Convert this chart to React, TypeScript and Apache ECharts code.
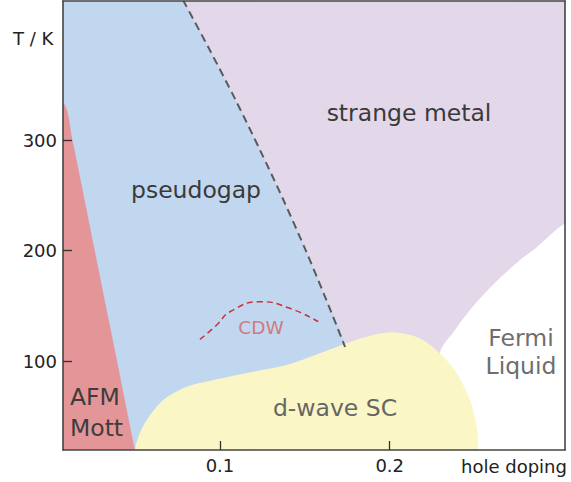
import React, { useEffect, useRef } from "react";
import * as echarts from "echarts";

// axis extents (hole doping, temperature in K)
const X_MIN = 0.0075;
const X_MAX = 0.3033;
const Y_MIN = 19.5;
const Y_MAX = 425.8;

const xTicks = [0.1, 0.2];
const yTicks = [100, 200, 300];

// phase boundaries: [doping, T]
const afmBoundary: number[][] = [
  [0.0081, 333], [0.0128, 302], [0.0266, 197], [0.0391, 102], [0.0499, 19.5],
];
const pseudogapLine: number[][] = [
  [0.0782, 426.7], [0.094, 381.4], [0.1092, 336.2], [0.1236, 290.9], [0.1374, 245.7],
  [0.1504, 200.5], [0.1627, 155.2], [0.1737, 112.7],
];
const scDome: number[][] = [
  [0.0499, 19.5], [0.0523, 33], [0.0568, 46.6], [0.0666, 64.7], [0.0804, 76.7], [0.0961, 82.8],
  [0.1196, 90.3], [0.1393, 96.4], [0.1589, 107], [0.1747, 116], [0.1903, 123.5], [0.2021, 126],
  [0.2179, 120.5], [0.2296, 107], [0.2395, 88.9], [0.2473, 64.7], [0.2513, 40.5], [0.2522, 19.5],
];
const fermiBoundary: number[][] = [
  [0.2296, 107], [0.2385, 128.1], [0.2473, 146.2], [0.2562, 161.5], [0.265, 175.1],
  [0.2768, 191.4], [0.2868, 203.2], [0.3027, 224],
];
const cdwLine: number[][] = [
  [0.0882, 119.6], [0.0981, 132.6], [0.1059, 144.6], [0.1236, 153.7], [0.1412, 147.7], [0.1579, 135.6],
];

const FONT = "DejaVu Sans";
const SMOOTH = 0.3;

function polygonSeries(points: number[][], color: string) {
  return {
    type: "custom",
    clip: true,
    silent: true,
    data: points,
    encode: { x: 0, y: 1 },
    renderItem: (params: any, api: any) => {
      if (params.dataIndex !== 0) return null;
      const pts = points.map((p) => api.coord(p));
      return {
        type: "polygon",
        shape: { points: pts, smooth: SMOOTH },
        style: { fill: color, stroke: null },
      };
    },
  };
}

export default function App() {
  const ref = useRef<HTMLDivElement>(null);
  useEffect(() => {
    if (!ref.current) return;
    const chart = echarts.init(ref.current, undefined, { renderer: "svg" });
    const xl = X_MIN - 0.01;
    const xr = X_MAX + 0.01;
    const yb = Y_MIN - 10;
    const yt = Y_MAX + 10;

    const white = [...fermiBoundary, [xr, fermiBoundary[fermiBoundary.length - 1][1] + 5], [xr, yb], [fermiBoundary[0][0], yb]];
    const blue = [[xl, yt], [pseudogapLine[0][0] - 0.003, yt], ...pseudogapLine, [pseudogapLine[pseudogapLine.length - 1][0] + 0.003, yb], [xl, yb]];
    const afm = [[xl, afmBoundary[0][1] + 3], ...afmBoundary, [afmBoundary[afmBoundary.length - 1][0] + 0.002, yb], [xl, yb]];
    const dome = [...scDome, [scDome[scDome.length - 1][0], yb], [scDome[0][0], yb]];

    const axisLine = { show: true, lineStyle: { color: "#444", width: 1.6 } };
    const textStyle = (color: string, size: number) => ({ fill: color, fontSize: size, fontFamily: FONT });

    chart.setOption({
      animation: false,
      grid: {
        left: 63, right: 6, top: 1, bottom: 32,
        show: true, backgroundColor: "#e3d7ea", borderWidth: 0,
      },
      xAxis: [
        {
          type: "value", min: X_MIN, max: X_MAX, z: 10,
          axisLine,
          splitLine: { show: false },
          axisTick: { show: true, inside: true, length: 9, customValues: xTicks, lineStyle: { color: "#333", width: 1.3 } },
          axisLabel: { show: true, customValues: xTicks, margin: 6, color: "#222", fontSize: 18, fontFamily: FONT },
        },
        {
          type: "value", min: X_MIN, max: X_MAX, position: "top", z: 10,
          axisLine, splitLine: { show: false }, axisTick: { show: false }, axisLabel: { show: false },
        },
      ],
      yAxis: [
        {
          type: "value", min: Y_MIN, max: Y_MAX, z: 10,
          axisLine,
          splitLine: { show: false },
          axisTick: { show: true, inside: true, length: 9, customValues: yTicks, lineStyle: { color: "#333", width: 1.3 } },
          axisLabel: { show: true, customValues: yTicks, margin: 6, color: "#222", fontSize: 18, fontFamily: FONT },
        },
        {
          type: "value", min: Y_MIN, max: Y_MAX, position: "right", z: 10,
          axisLine, splitLine: { show: false }, axisTick: { show: false }, axisLabel: { show: false },
        },
      ],
      series: [
        polygonSeries(white, "#ffffff"),
        polygonSeries(blue, "#c1d7ef"),
        polygonSeries(afm, "#e39598"),
        polygonSeries(dome, "#faf6c5"),
        {
          type: "custom",
          clip: true,
          silent: true,
          data: pseudogapLine,
          encode: { x: 0, y: 1 },
          renderItem: (params: any, api: any) => {
            if (params.dataIndex !== 0) return null;
            return {
              type: "polyline",
              shape: { points: pseudogapLine.map((p) => api.coord(p)), smooth: SMOOTH },
              style: { fill: null, stroke: "#5a5a5a", lineWidth: 2, lineDash: [8, 5] },
            };
          },
        },
        {
          type: "line", data: cdwLine, showSymbol: false, silent: true, smooth: true,
          lineStyle: { color: "#c9323a", width: 1.5, type: [6, 4] },
        },
      ],
      graphic: [
        { type: "text", left: 13, top: 29, style: { text: "T / K", ...textStyle("#222", 18) }, z: 20 },
        { type: "text", left: 461, top: 457, style: { text: "hole doping", ...textStyle("#222", 18) }, z: 20 },
        { type: "text", x: 409, y: 113, style: { text: "strange metal", align: "center", verticalAlign: "middle", ...textStyle("#3a3a3a", 23.5) }, z: 20 },
        { type: "text", x: 196, y: 190, style: { text: "pseudogap", align: "center", verticalAlign: "middle", ...textStyle("#3a3a3a", 23.5) }, z: 20 },
        { type: "text", x: 261, y: 327, style: { text: "CDW", align: "center", verticalAlign: "middle", ...textStyle("#d07a7e", 18.5) }, z: 20 },
        { type: "text", x: 335, y: 408, style: { text: "d-wave SC", align: "center", verticalAlign: "middle", ...textStyle("#666666", 23.5) }, z: 20 },
        { type: "text", x: 521, y: 338, style: { text: "Fermi", align: "center", verticalAlign: "middle", ...textStyle("#6e6e6e", 23.5) }, z: 20 },
        { type: "text", x: 521, y: 366, style: { text: "Liquid", align: "center", verticalAlign: "middle", ...textStyle("#6e6e6e", 23.5) }, z: 20 },
        { type: "text", x: 70, y: 397, style: { text: "AFM", align: "left", verticalAlign: "middle", ...textStyle("#3d3d3d", 23.5) }, z: 20 },
        { type: "text", x: 70, y: 428, style: { text: "Mott", align: "left", verticalAlign: "middle", ...textStyle("#3d3d3d", 23.5) }, z: 20 },
      ],
    });
    return () => chart.dispose();
  }, []);
  return (
    <div
      ref={ref}
      style={{ position: "fixed", left: 0, top: 0, width: 571, height: 482, background: "#fff" }}
    />
  );
}
